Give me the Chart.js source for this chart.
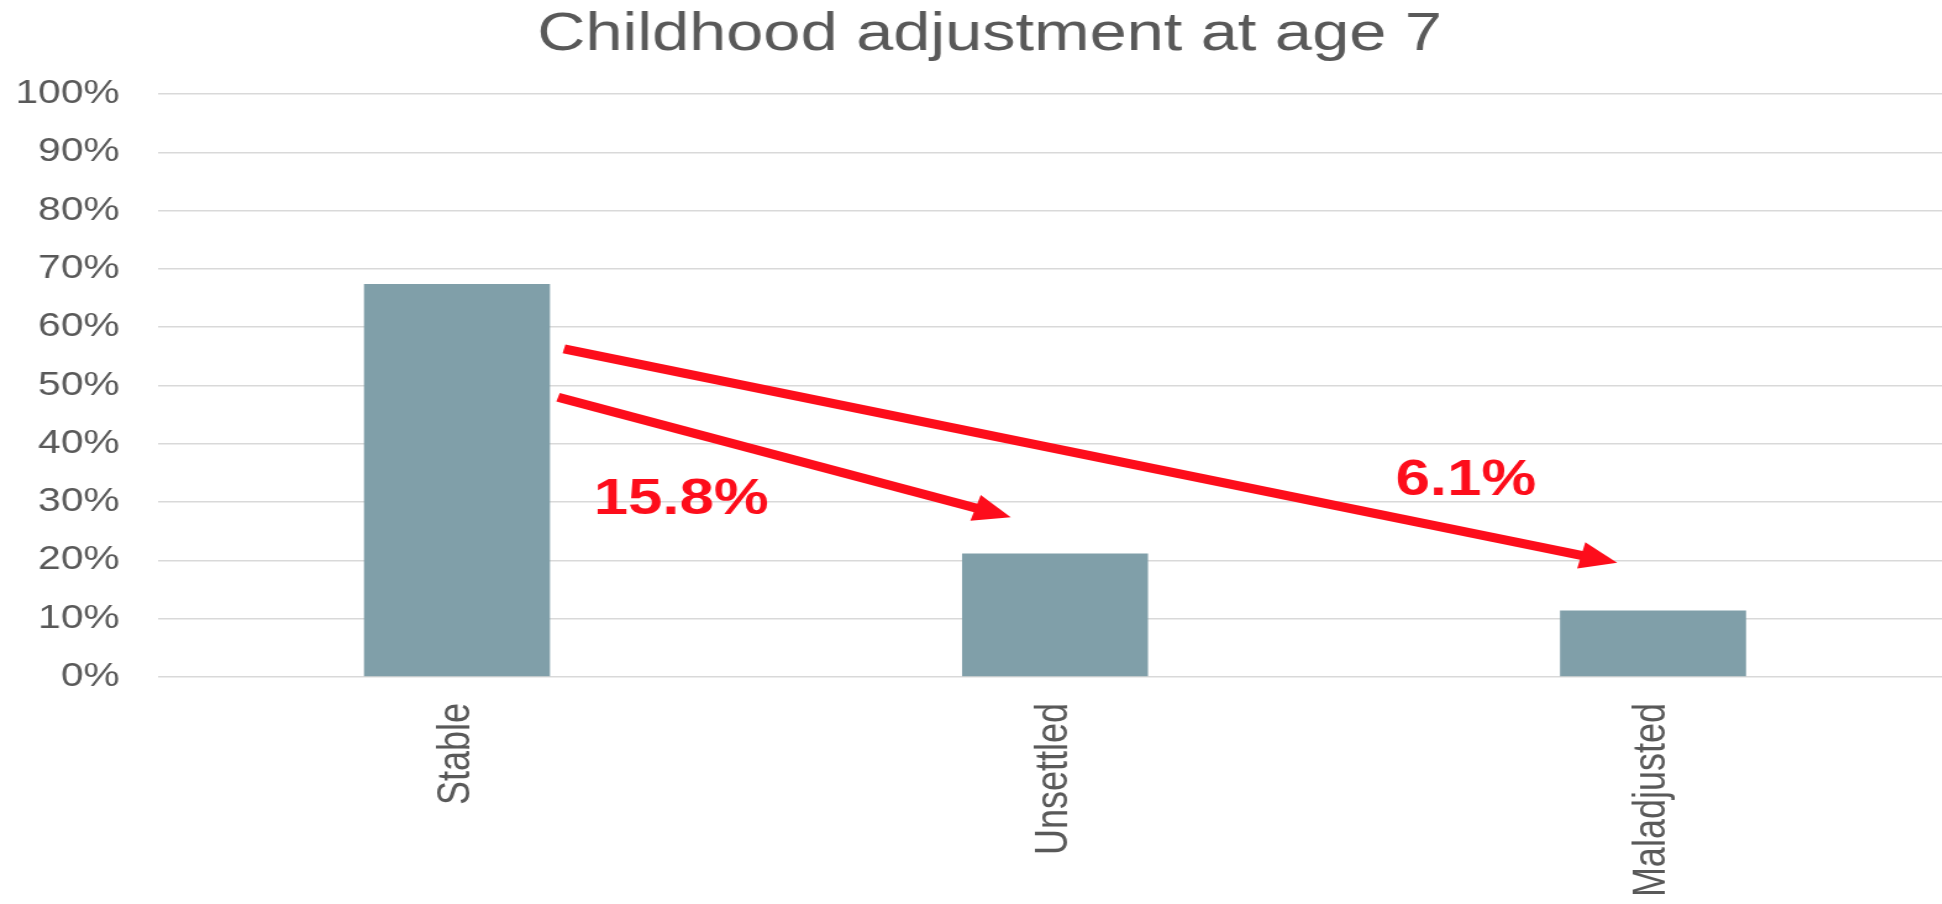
<!DOCTYPE html>
<html>
<head>
<meta charset="utf-8">
<title>Childhood adjustment at age 7</title>
<script src="https://cdn.jsdelivr.net/npm/chart.js@4.4.1/dist/chart.umd.min.js"></script>
<style>
  html, body { margin: 0; padding: 0; background: #fff; overflow: hidden; }
  /* the chart is drawn narrow and widened to fill the window */
  #wrap { width: 1604px; height: 904px; transform: scaleX(1.235); transform-origin: 0 0; }
</style>
</head>
<body>
<div id="wrap"><canvas id="c" width="1604" height="904"></canvas></div>
<script>
const categories = ['Stable', 'Unsettled', 'Maladjusted'];
const shares = [67.4, 21.2, 11.4];
const yTickLabels = ['0%', '10%', '20%', '30%', '40%', '50%', '60%', '70%', '80%', '90%', '100%'];

// arrows in data space: [category index, percent]
const arrowFrom = [[0.169, 48.0], [0.179, 56.3]];
const arrowTo = [[0.926, 27.4], [1.940, 19.6]];
const arrowLabels = ['15.8%', '6.1%'];
const arrowLabelAt = [[0.375, 30.3], [1.687, 33.6]];

const FONT = "'Liberation Sans', Arial, sans-serif";
const RED = '#fd0d1b';

const arrowPlugin = {
  id: 'arrows',
  afterLayout(chart) {
    // nudge the title a little to the right of the padded box centre
    const t = chart.titleBlock;
    if (t) { t.left += 5; t.right += 5; }
  },
  afterDatasetsDraw(chart) {
    const { ctx, scales: { x, y } } = chart;
    ctx.save();
    ctx.strokeStyle = RED;
    ctx.fillStyle = RED;
    ctx.lineWidth = 9;
    ctx.lineCap = 'butt';
    arrowFrom.forEach((from, i) => {
      const x0 = x.getPixelForValue(from[0]), y0 = y.getPixelForValue(from[1]);
      const x1 = x.getPixelForValue(arrowTo[i][0]), y1 = y.getPixelForValue(arrowTo[i][1]);
      const ang = Math.atan2(y1 - y0, x1 - x0);
      const headLen = 30, headHalf = 13.5;
      const bx = x1 - headLen * Math.cos(ang), by = y1 - headLen * Math.sin(ang);
      ctx.beginPath();
      ctx.moveTo(x0, y0);
      ctx.lineTo(bx + Math.cos(ang), by + Math.sin(ang));
      ctx.stroke();
      ctx.beginPath();
      ctx.moveTo(x1, y1);
      ctx.lineTo(bx + headHalf * Math.sin(ang), by - headHalf * Math.cos(ang));
      ctx.lineTo(bx - headHalf * Math.sin(ang), by + headHalf * Math.cos(ang));
      ctx.closePath();
      ctx.fill();
    });
    ctx.font = 'bold 50px ' + FONT;
    ctx.textAlign = 'center';
    ctx.textBaseline = 'middle';
    arrowLabels.forEach((txt, i) => {
      ctx.fillText(txt, x.getPixelForValue(arrowLabelAt[i][0]), y.getPixelForValue(arrowLabelAt[i][1]));
    });
    ctx.restore();
  }
};

new Chart(document.getElementById('c'), {
  type: 'bar',
  data: {
    labels: categories,
    datasets: [{
      data: shares,
      backgroundColor: '#809fa9',
      barPercentage: 0.311,
      categoryPercentage: 1
    }]
  },
  options: {
    responsive: false,
    animation: false,
    devicePixelRatio: 1,
    layout: { padding: { left: 11.9, right: 23.4, top: 0, bottom: 0 } },
    plugins: {
      legend: { display: false },
      tooltip: { enabled: false },
      title: {
        display: true,
        text: 'Childhood adjustment at age 7',
        color: '#595959',
        font: { family: FONT, size: 54, weight: 'normal' },
        padding: { top: 3, bottom: 26.2 }
      }
    },
    scales: {
      x: {
        grid: { display: false },
        border: { display: false },
        ticks: {
          color: '#595959',
          font: { family: FONT, size: 36 },
          minRotation: 90,
          maxRotation: 90,
          padding: 18
        },
        afterFit(scale) { scale.height = 227; }
      },
      y: {
        min: 0,
        max: 100,
        grid: { color: '#d9d9d9', lineWidth: 1.5, drawTicks: false },
        border: { display: false },
        ticks: {
          stepSize: 10,
          color: '#595959',
          font: { family: FONT, size: 33 },
          padding: 31,
          callback: (v, i) => yTickLabels[i]
        },
        afterFit(scale) { scale.width = 116; }
      }
    }
  },
  plugins: [arrowPlugin]
});
</script>
</body>
</html>
